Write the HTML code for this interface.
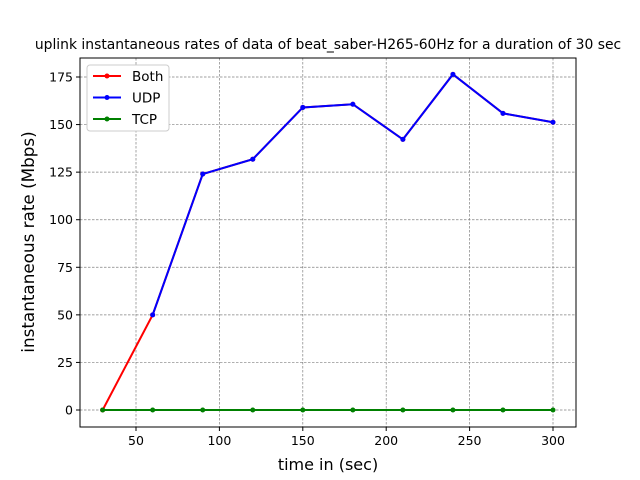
<!DOCTYPE html>
<html><head><meta charset="utf-8"><style>
body{margin:0;background:#fff}
svg{display:block;font-family:"DejaVu Sans","Liberation Sans",sans-serif}
</style></head><body>
<svg id="c" width="640" height="480"></svg>
<script>
const xVals=[30,60,90,120,150,180,210,240,270,300];
const bothVals=[0,50,124,131.8,159,160.7,142.2,176.4,155.9,151.2];
const udpVals=[null,50,124,131.8,159,160.7,142.2,176.4,155.9,151.2];
const tcpVals=[0,0,0,0,0,0,0,0,0,0];
const xTicks=[50,100,150,200,250,300];
const yTicks=[0,25,50,75,100,125,150,175];
const NS="http://www.w3.org/2000/svg";
const svg=document.getElementById('c');
const L=80,R=576,T=58,B=427;
const X=v=>136+(v-50)*(553-136)/250;
const Y=v=>410-v*(410-77)/175;
function el(t,a,p){const e=document.createElementNS(NS,t);for(const k in a)e.setAttribute(k,a[k]);(p||svg).appendChild(e);return e;}
const title=el('text',{x:328,y:49,'text-anchor':'middle','font-size':13.9});title.textContent='uplink instantaneous rates of data of beat_saber-H265-60Hz for a duration of 30 sec';


xTicks.forEach(t=>{const x=X(t);
const g=el('line',{x1:x,x2:x,y1:T,y2:B,stroke:'#808080','stroke-width':0.7,'stroke-dasharray':'2.5,1.5'});


el('line',{x1:x,x2:x,y1:B,y2:B+4,stroke:'#000'});
const tx=el('text',{x:x,y:B+18,'text-anchor':'middle','font-size':12.5});tx.textContent=t;

});
yTicks.forEach(t=>{const y=Y(t);
const g=el('line',{x1:L,x2:R,y1:y,y2:y,stroke:'#808080','stroke-width':0.7,'stroke-dasharray':'2.5,1.5'});


el('line',{x1:L-4,x2:L,y1:y,y2:y,stroke:'#000'});
const tx=el('text',{x:L-7,y:y+4.5,'text-anchor':'end','font-size':12.5});tx.textContent=t;

});
const fr=el('rect',{x:L,y:T,width:R-L,height:B-T,fill:'none',stroke:'#000','stroke-width':1});


const xl=el('text',{x:328,y:470,'text-anchor':'middle','font-size':16});xl.textContent='time in (sec)';


const yl=el('text',{x:0,y:0,'text-anchor':'middle','font-size':16.8,transform:'translate(34,242) rotate(-90)'});yl.textContent='instantaneous rate (Mbps)';


function series(vals,color,name){
const pts=[];vals.forEach((v,i)=>{if(v!==null)pts.push([X(xVals[i]),Y(v)]);});
const p=el('polyline',{points:pts.map(p=>p.join(',')).join(' '),fill:'none',stroke:color,'stroke-width':2});


pts.forEach(q=>{const c=el('circle',{cx:q[0],cy:q[1],r:2.5,fill:color});

});}
series(bothVals,'#ff0000','both');
series(udpVals,'#0000ff','udp');
series(tcpVals,'#008000','tcp');
const lg=el('g',{});


el('rect',{x:87,y:65,width:82,height:66,rx:3,fill:'#fff',stroke:'#ccc'},lg);
[['Both','#ff0000'],['UDP','#0000ff'],['TCP','#008000']].forEach((d,i)=>{const y=76+i*21.5;
const e=el('g',{},lg);


el('line',{x1:93,x2:121,y1:y,y2:y,stroke:d[1],'stroke-width':2},e);
el('circle',{cx:107,cy:y,r:2.5,fill:d[1]},e);
const t=el('text',{x:132,y:y+5,'font-size':13.5},e);t.textContent=d[0];});
</script>
</body></html>
